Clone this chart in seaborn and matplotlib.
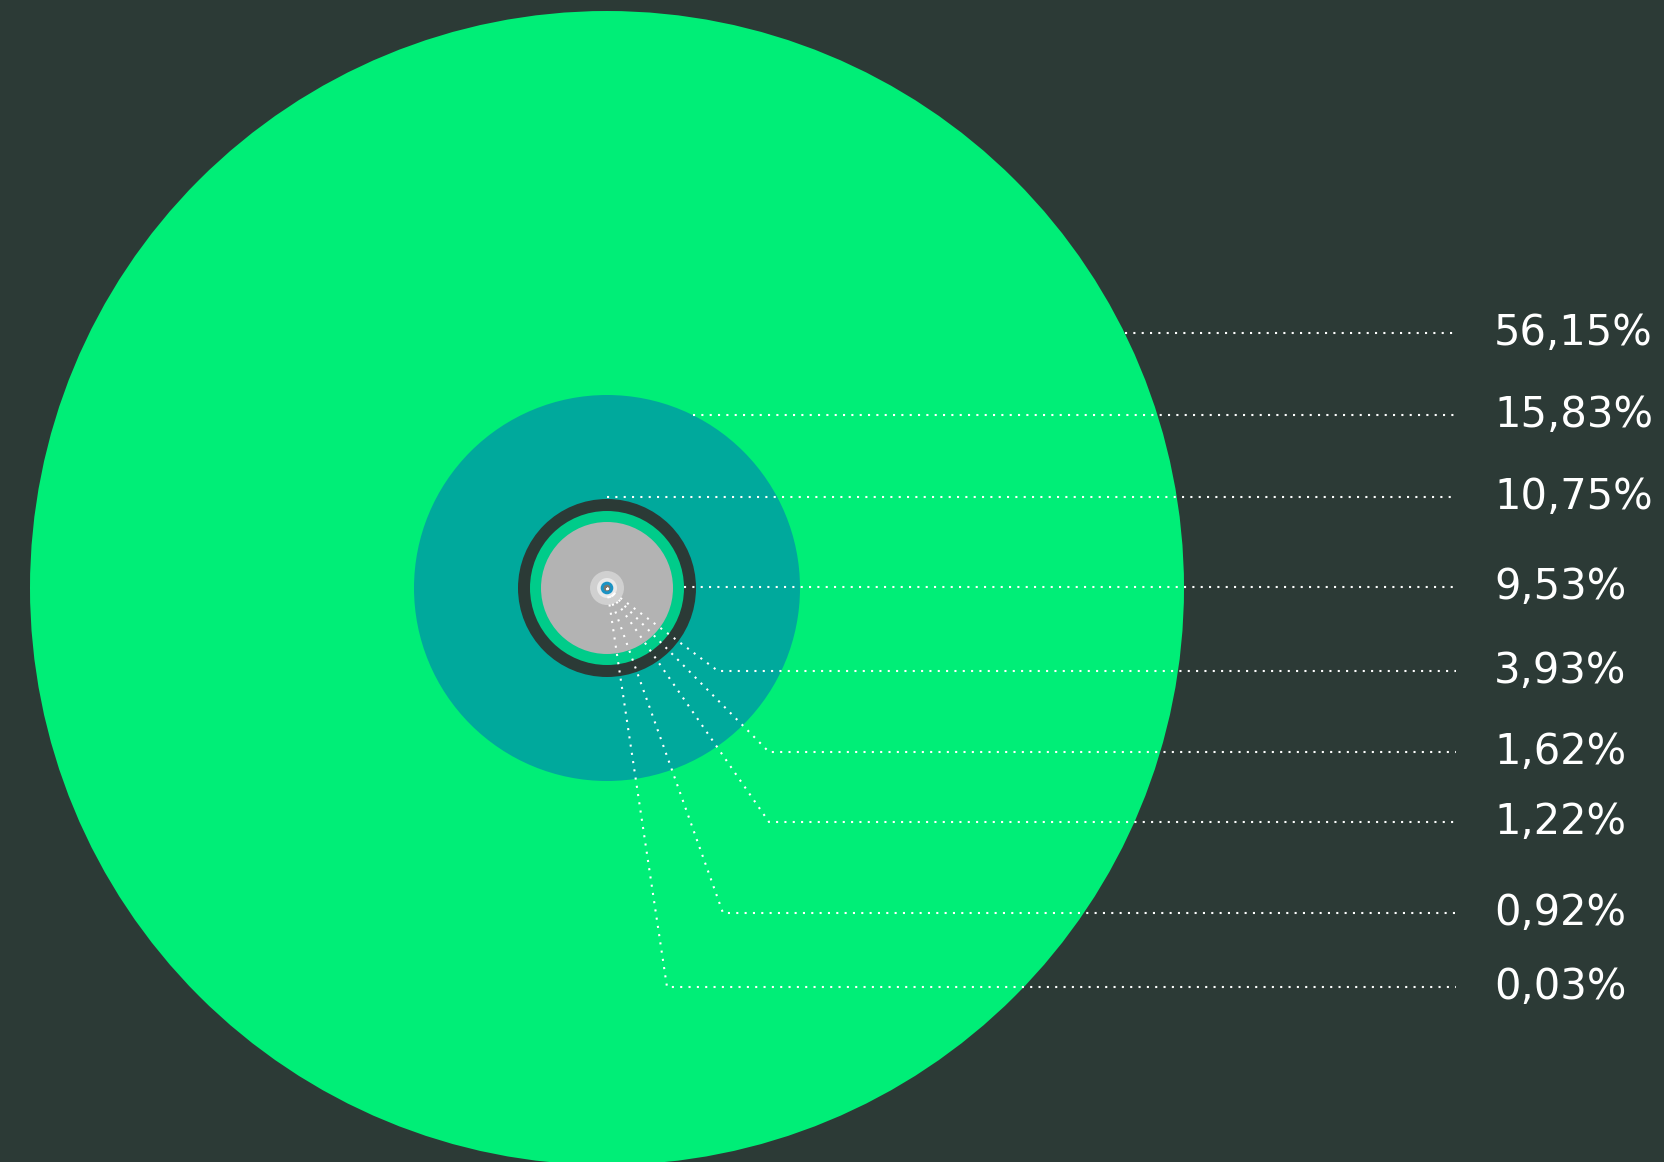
import numpy as np
import matplotlib
matplotlib.use("Agg")
import matplotlib.pyplot as plt
from matplotlib.patches import Circle
import seaborn as sns

# ---- data ----
labels = ["56,15%", "15,83%", "10,75%", "9,53%", "3,93%", "1,62%", "1,22%", "0,92%", "0,03%"]
values = [56.15, 15.83, 10.75, 9.53, 3.93, 1.62, 1.22, 0.92, 0.03]
colors = ["#00EE77", "#00A99C", "#2B3A36", "#00CC8A", "#B3B3B3",
          "#D0D0D0", "#E9E9E9", "#1B93C4", "#7C776E"]

# ---- layout (pixels) ----
W, H = 1665, 1162
cx, cy = 607, 588
ring_radius = [577, 193, 89, 77, 66, 17, 10, 6.3, 3.3]
label_y = [333, 415, 497, 587, 671, 752, 822, 913, 987]
elbow_x = [None, None, None, None, 718, 769, 769, 723, 667]
line_end_x = 1456
label_x = 1494
BG = "#2C3A36"

sns.set_theme(style="white")
plt.rcParams["font.family"] = ["DejaVu Sans"]

fig = plt.figure(figsize=(W / 100, H / 100), dpi=100, facecolor=BG)
ax = fig.add_axes([0, 0, 1, 1])
ax.set_facecolor(BG)
ax.set_xlim(0, W)
ax.set_ylim(H, 0)
ax.set_aspect("equal")
ax.axis("off")

for r, c in zip(ring_radius, colors):
    ax.add_patch(Circle((cx, cy), r, facecolor=c, edgecolor="none", zorder=1))

dot = dict(color="white", lw=1.5, linestyle=(0, (1, 3)), zorder=3)
for i, (lab, y) in enumerate(zip(labels, label_y)):
    if elbow_x[i] is None:
        r = ring_radius[i]
        dy = y - cy
        x0 = cx + np.sqrt(max(r * r - dy * dy, 0))
        ax.plot([x0, line_end_x], [y, y], **dot)
    else:
        ax.plot([cx, elbow_x[i], line_end_x], [cy, y, y], **dot)
    ax.text(label_x, y, lab, color="white", fontsize=30, va="center", ha="left",
            zorder=4)

fig.savefig("out.png", dpi=100, facecolor=BG)
